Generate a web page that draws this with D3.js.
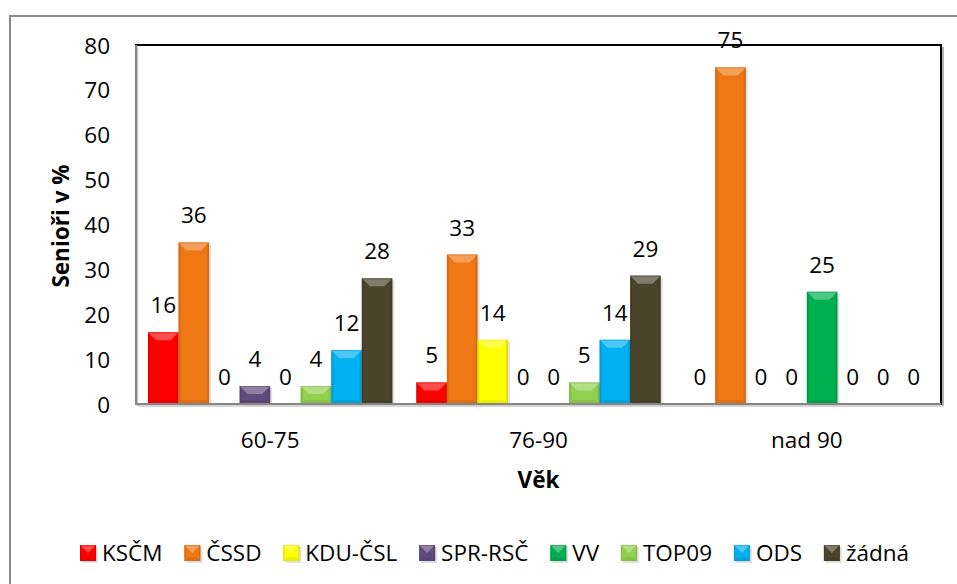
<!DOCTYPE html>
<html>
<head>
<meta charset="utf-8">
<script src="https://cdn.jsdelivr.net/npm/d3@7"></script>
<style>
html,body{margin:0;padding:0;background:#fff;}
svg{display:block;}
text{font-family:"Open Sans","Noto Sans",sans-serif;fill:#000;}
</style>
</head>
<body>
<svg id="chart" width="957" height="584"></svg>
<script>
const categories = ["60-75", "76-90", "nad 90"];
const seriesNames = ["KSČM", "ČSSD", "KDU-ČSL", "SPR-RSČ", "VV", "TOP09", "ODS", "žádná"];
const valKSCM   = [16, 4.8, 0];
const valCSSD   = [36, 33.3, 75];
const valKDU    = [0, 14.3, 0];
const valSPR    = [4, 0, 0];
const valVV     = [0, 0, 25];
const valTOP09  = [4, 4.8, 0];
const valODS    = [12, 14.3, 0];
const valZadna  = [28, 28.6, 0];
const seriesValues = [valKSCM, valCSSD, valKDU, valSPR, valVV, valTOP09, valODS, valZadna];
const seriesColors = ["#ff0000", "#ef7714", "#ffff00", "#614a7e", "#00b050", "#92d050", "#00b0f0", "#4a452a"];
const yTicks = [0, 10, 20, 30, 40, 50, 60, 70, 80];
const yTitle = "Senioři v %";
const xTitle = "Věk";

const FONT = "'Open Sans', 'Noto Sans', sans-serif";
const FS = 22.5;

const svg = d3.select("#chart");
const defs = svg.append("defs");

const plot = {left: 136, top: 45, right: 941, bottom: 404};

svg.append("rect").attr("x", 10).attr("y", 16).attr("width", 1000).attr("height", 700)
  .attr("fill", "#fff").attr("stroke", "#8a8a8a").attr("stroke-width", 2);

const x0 = d3.scaleBand().domain(categories).range([plot.left, plot.right]).paddingInner(24/268.3).paddingOuter(12/268.3);
const x1 = d3.scaleBand().domain(seriesNames).range([0, x0.bandwidth()]);
const y = d3.scaleLinear().domain([0, 80]).range([plot.bottom, plot.top]);

seriesColors.forEach((c, i) => {
  const g = defs.append("linearGradient").attr("id", "grad" + i).attr("x1", "0").attr("x2", "1").attr("y1", "0").attr("y2", "0");
  const dk = d3.color(c).darker(0.45);
  g.append("stop").attr("offset", "0").attr("stop-color", dk);
  g.append("stop").attr("offset", "0.1").attr("stop-color", c);
  g.append("stop").attr("offset", "0.9").attr("stop-color", c);
  g.append("stop").attr("offset", "1").attr("stop-color", dk);
});

function bevelBar(g, bx, by, w, h, ci) {
  if (h <= 0) return;
  const c = seriesColors[ci];
  const light = d3.interpolateRgb(c, "#ffffff")(0.35);
  const dark = d3.color(c).darker(0.35);
  const b = Math.min(8, h / 2, w / 2);
  g.append("rect").attr("x", bx + 2).attr("y", by + 2).attr("width", w).attr("height", h)
    .attr("fill", "#000").attr("opacity", 0.12);
  g.append("rect").attr("x", bx).attr("y", by).attr("width", w).attr("height", h)
    .attr("fill", `url(#grad${ci})`);
  g.append("polygon")
    .attr("points", [[bx, by], [bx + w, by], [bx + w - b, by + b], [bx + b, by + b]].map(p => p.join(",")).join(" "))
    .attr("fill", light).attr("opacity", 0.85);
  const bb = Math.min(4, h / 4);
  g.append("polygon")
    .attr("points", [[bx, by + h], [bx + w, by + h], [bx + w - bb, by + h - bb], [bx + bb, by + h - bb]].map(p => p.join(",")).join(" "))
    .attr("fill", dark).attr("opacity", 0.6);
  g.append("rect").attr("x", bx + 0.5).attr("y", by + 0.5).attr("width", w - 1).attr("height", h - 1)
    .attr("fill", "none").attr("stroke", dark).attr("stroke-width", 1).attr("opacity", 0.5);
}

svg.append("line").attr("x1", plot.right + 2).attr("x2", plot.right + 2).attr("y1", plot.top + 2).attr("y2", plot.bottom + 2)
  .attr("stroke", "#b0b0b0").attr("stroke-width", 2);
svg.append("rect").attr("x", plot.left).attr("y", plot.top).attr("width", plot.right - plot.left).attr("height", plot.bottom - plot.top)
  .attr("fill", "none").attr("stroke", "#000").attr("stroke-width", 2);

const barsG = svg.append("g");
categories.forEach((cat, ci) => {
  seriesNames.forEach((s, si) => {
    const v = seriesValues[si][ci];
    const bx = x0(cat) + x1(s);
    bevelBar(barsG, bx, y(v), x1.bandwidth(), y(0) - y(v), si);
  });
});

svg.append("line").attr("x1", plot.left + 1.5).attr("x2", plot.left + 1.5).attr("y1", plot.top + 2).attr("y2", plot.bottom + 2)
  .attr("stroke", "#c8c8c8").attr("stroke-width", 1.5);
svg.append("line").attr("x1", plot.left).attr("x2", plot.left).attr("y1", plot.top).attr("y2", plot.bottom)
  .attr("stroke", "#868686").attr("stroke-width", 2);
svg.append("line").attr("x1", plot.left + 2).attr("x2", plot.right + 2).attr("y1", plot.bottom + 2).attr("y2", plot.bottom + 2)
  .attr("stroke", "#c8c8c8").attr("stroke-width", 1.5);
svg.append("line").attr("x1", plot.left - 1).attr("x2", plot.right).attr("y1", plot.bottom).attr("y2", plot.bottom)
  .attr("stroke", "#868686").attr("stroke-width", 2);

const yAxis = d3.axisLeft(y).tickValues(yTicks).tickSize(0).tickPadding(0).tickFormat(d3.format("d"));
const yg = svg.append("g").attr("transform", `translate(${110},0)`).call(yAxis);
yg.select(".domain").remove();
yg.selectAll("text").attr("font-size", FS).attr("font-family", FONT).attr("fill", "#000").attr("dy", "0.36em");

const xAxis = d3.axisBottom(x0).tickSize(0).tickPadding(0);
const xg = svg.append("g").attr("transform", `translate(0,${plot.bottom})`).call(xAxis);
xg.select(".domain").remove();
xg.selectAll("text").attr("font-size", FS).attr("font-family", FONT).attr("fill", "#000").attr("dy", null).attr("y", 44);

const fmt = d3.format(".0f");
const labG = svg.append("g");
categories.forEach((cat, ci) => {
  seriesNames.forEach((s, si) => {
    const v = seriesValues[si][ci];
    labG.append("text")
      .attr("x", x0(cat) + x1(s) + x1.bandwidth() / 2)
      .attr("y", y(v) - 19)
      .attr("text-anchor", "middle").attr("font-size", FS)
      .text(fmt(v));
  });
});

svg.append("text").attr("transform", `translate(69,226) rotate(-90)`)
  .attr("text-anchor", "middle").attr("font-size", FS).attr("font-weight", "bold").text(yTitle);
svg.append("text").attr("x", (plot.left + plot.right) / 2).attr("y", 488)
  .attr("text-anchor", "middle").attr("font-size", FS).attr("font-weight", "bold").text(xTitle);

const legG = svg.append("g");
const legItems = seriesNames.map((s, si) => {
  const t = legG.append("text").attr("y", 561).attr("font-size", FS).text(s);
  return {t, w: t.node().getComputedTextLength(), si};
});
const legStart = 80, legEnd = 909;
const textW = d3.sum(legItems, d => d.w);
const gapAfter = (legEnd - legStart - textW - legItems.length * 22) / (legItems.length - 1);
let lx = legStart;
legItems.forEach(d => {
  bevelBar(legG, lx, 545, 16, 16, d.si);
  d.t.attr("x", lx + 22);
  lx += 22 + d.w + gapAfter;
});
</script>
</body>
</html>
